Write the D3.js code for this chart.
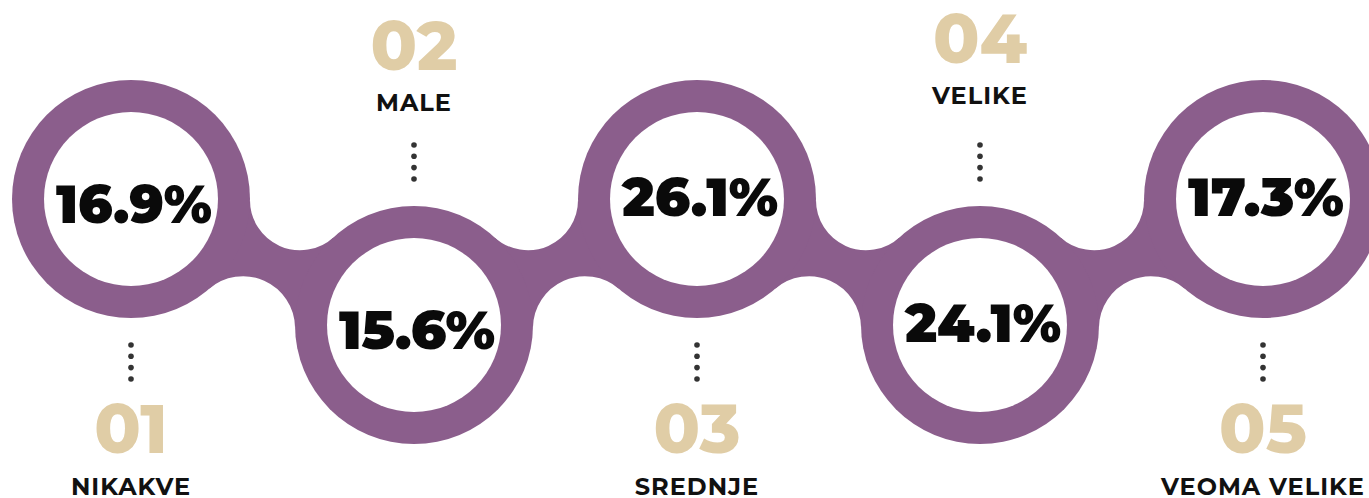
<!DOCTYPE html>
<html><head><meta charset="utf-8">
<script src="https://cdn.jsdelivr.net/npm/d3@7"></script>
<style>html,body{margin:0;padding:0;background:#fff;overflow:hidden}</style>
</head><body><svg id="c" width="1369" height="498"></svg>
<script>
const categories = ["NIKAKVE", "MALE", "SREDNJE", "VELIKE", "VEOMA VELIKE"];
const numbers = ["01", "02", "03", "04", "05"];
const values = [16.9, 15.6, 26.1, 24.1, 17.3];
const rows = ["up", "down", "up", "down", "up"];

// layout
const W = 1369, H = 498;
const R = 119, RIN = 87, R_TOP = 50, R_BOT = 52;
const PURPLE = "#8b5e8c", BEIGE = "#e0cda6";
const valueNudge = [7, 7, 0, 0, 0];
const labelNudge = [0, 7, 0, 0, 0];

const x = d3.scalePoint().domain(categories).range([131, 1263]);
const y = d3.scaleOrdinal().domain(["up", "down"]).range([199, 325]);
const fmt = d3.format(".1f");

const svg = d3.select("#c");
svg.append("rect").attr("width", W).attr("height", H).attr("fill", "#fff");

const nodes = categories.map((c, i) => ({c, n: numbers[i], v: values[i], row: rows[i], cx: x(c), cy: y(rows[i]), i}));

function neck(a, b) {
  const dx = b.cx - a.cx, dy = b.cy - a.cy, d = Math.hypot(dx, dy);
  const ux = dx / d, uy = dy / d;
  const nx = uy, ny = -ux;
  const mx = (a.cx + b.cx) / 2, my = (a.cy + b.cy) / 2;
  function fillet(rf, sign) {
    const h = Math.sqrt((R + rf) ** 2 - (d / 2) ** 2);
    const px = mx + sign * h * nx, py = my + sign * h * ny;
    const t = c => { const vx = px - c.cx, vy = py - c.cy, L = Math.hypot(vx, vy); return [c.cx + R * vx / L, c.cy + R * vy / L]; };
    return {ta: t(a), tb: t(b)};
  }
  const top = fillet(R_TOP, 1), bot = fillet(R_BOT, -1);
  return `M${top.ta} A${R_TOP},${R_TOP} 0 0 0 ${top.tb} L${bot.tb} A${R_BOT},${R_BOT} 0 0 0 ${bot.ta} Z`;
}

const pairs = d3.pairs(nodes);
const g = svg.append("g");
g.selectAll("path.neck").data(pairs).join("path").attr("class", "neck")
  .attr("d", p => neck(p[0], p[1])).attr("fill", PURPLE);
g.selectAll("circle.outer").data(nodes).join("circle").attr("class", "outer")
  .attr("cx", d => d.cx).attr("cy", d => d.cy).attr("r", R).attr("fill", PURPLE);
g.selectAll("circle.inner").data(nodes).join("circle").attr("class", "inner")
  .attr("cx", d => d.cx).attr("cy", d => d.cy).attr("r", RIN).attr("fill", "#fff");

// values
svg.selectAll("text.val").data(nodes).join("text").attr("class", "val")
  .attr("x", d => d.cx + 3).attr("y", d => d.cy + 16.5 + valueNudge[d.i])
  .attr("text-anchor", "middle")
  .attr("font-family", "Montserrat, Inter, 'Open Sans', sans-serif")
  .attr("font-weight", 900).attr("font-size", 53)
  .attr("textLength", 156).attr("lengthAdjust", "spacingAndGlyphs")
  .attr("fill", "#0a0a0a")
  .text(d => fmt(d.v) + "%");

// dots
const dotOffsets = [146, 157.3, 168.6, 180];
nodes.forEach(d => {
  const up = d.row === "up";
  svg.selectAll(null).data(dotOffsets).join("circle")
    .attr("cx", d.cx).attr("cy", o => up ? d.cy + o : d.cy - (326 - o))
    .attr("r", 2.8).attr("fill", "#333");
});

// numbers & labels
nodes.forEach(d => {
  const up = d.row === "up";
  const nb = up ? d.cy + 254 : d.cy - 262 + labelNudge[d.i];
  const lb = up ? d.cy + 296 : d.cy - 221 + labelNudge[d.i];
  svg.append("text").attr("x", d.cx).attr("y", nb).attr("text-anchor", "middle")
    .attr("font-family", "Montserrat, Inter, sans-serif").attr("font-weight", 800)
    .attr("font-size", 68).attr("fill", BEIGE).text(d.n);
  svg.append("text").attr("x", d.cx).attr("y", lb).attr("text-anchor", "middle")
    .attr("font-family", "Montserrat, Inter, sans-serif").attr("font-weight", 700)
    .attr("font-size", 24).attr("letter-spacing", 1).attr("fill", "#111").text(d.c);
});
</script></body></html>
